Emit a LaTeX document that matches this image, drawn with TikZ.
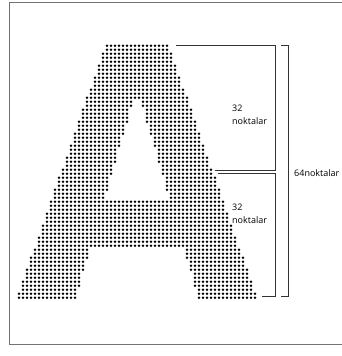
\documentclass[tikz,border=0pt]{standalone}
\usepackage{fontspec}
\setmainfont{Open Sans}
\usetikzlibrary{arrows.meta}

\begin{document}
\begin{tikzpicture}[
    x=1pt, y=-1pt,
    dimline/.style={draw=black!80, line width=0.8pt},
    dotlabel/.style={anchor=west, align=left, inner sep=0pt,
        font=\fontsize{9}{13}\selectfont, text=black}
]
\useasboundingbox (0,0) rectangle (342,356);

%-------------------------
% Frame
%-------------------------
\draw[black!55, line width=0.8pt] (9,2) rectangle (352,344);

%-------------------------
% Dotted letter A (64 rows)
%-------------------------
\foreach \j in {0,...,63}{
  \foreach \i in {0,...,59}{
    \pgfmathsetmacro{\xx}{19+4*\i}
    \pgfmathsetmacro{\yy}{45.7+4*\j}
    \pgfmathsetmacro{\outl}{107-88*\j/63}
    \pgfmathsetmacro{\outr}{167+88*\j/63}
    \pgfmathsetmacro{\hw}{4+1.167*(\j-14)}
    \pgfmathtruncatemacro{\inside}{and(\xx>=\outl-2, \xx<=\outr+2)}
    \pgfmathtruncatemacro{\gap}{and(\j>=14, and(or(\j<39,\j>50), abs(\xx-137)<\hw))}
    \ifnum\inside=1 \ifnum\gap=0 \fill (\xx,\yy) circle (1.4); \fi\fi
  }
}

%-------------------------
% Upper half bracket
%-------------------------
\coordinate (upA) at (176,45);
\coordinate (upB) at (275,45);
\coordinate (upC) at (275,170);
\coordinate (upD) at (215,170);
\draw[dimline] (upA) -- (upB) -- (upC) -- (upD);
\node[dotlabel] (uplabel) at (232,115) {32\\noktalar};

%-------------------------
% Lower half bracket
%-------------------------
\coordinate (loA) at (218,173);
\coordinate (loB) at (275,173);
\coordinate (loC) at (275,296.5);
\coordinate (loD) at (262,296.5);
\draw[dimline] (loA) -- (loB) -- (loC) -- (loD);
\node[dotlabel] (lolabel) at (232,214) {32\\noktalar};

%-------------------------
% Full height bracket
%-------------------------
\coordinate (allA) at (281,45);
\coordinate (allB) at (288,45);
\coordinate (allC) at (288,296.5);
\coordinate (allD) at (281,296.5);
\draw[dimline] (allA) -- (allB) -- (allC) -- (allD);
\node[dotlabel] (alllabel) at (294,173) {64noktalar};
\end{tikzpicture}
\end{document}
